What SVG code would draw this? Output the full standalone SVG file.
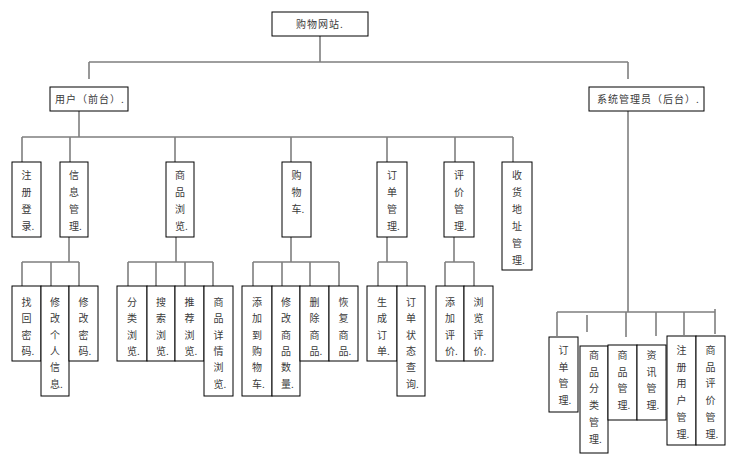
<svg xmlns="http://www.w3.org/2000/svg" width="729" height="469" viewBox="0 0 729 469">
<style>
rect{fill:#fff;stroke:#000;stroke-width:1}
text{font-family:"Noto Sans CJK SC","Liberation Sans",sans-serif;font-size:10px;fill:#3a3a3a}
.h{letter-spacing:1px}
#connectors path{fill:none;stroke:#7f7f7f;stroke-width:1.6}
</style>
<rect x="0" y="0" width="729" height="469" style="stroke:none"/>
<g id="connectors">
<path d="M320,36V62M89,62H628M89,62V79M628,62V79"/>
<path d="M79,111V137M22,137H513M22,137V162M70,137V162M175,137V162M291,137V162M387,137V162M455,137V162M513,137V162"/>
<path d="M69,237V262M22,262H79M22,262V286M51,262V286M79,262V286"/>
<path d="M176,237V262M128,262H213M128,262V286M156,262V286M185,262V286M213,262V286"/>
<path d="M291,237V262M253,262H339M253,262V286M282,262V286M310,262V286M339,262V286"/>
<path d="M387,237V262M378,262H407M378,262V286M407,262V286"/>
<path d="M454,237V262M445,262H474M445,262V286M474,262V286"/>
<path d="M628,111V312M557,312H715M557,312V336M587,315V332M626,312V337M656,312V336M684,312V335M715,309V334"/>
</g>
<g id="root"><rect x="272" y="12" width="96" height="24"/><text class="h" x="296" y="28">购物网站.</text></g>
<g id="user"><rect x="50" y="87" width="78" height="24"/><text class="h" x="55" y="103">用户（前台）.</text></g>
<g id="admin"><rect x="589" y="87" width="115" height="24"/><text class="h" x="597" y="103">系统管理员（后台）.</text></g>

<g id="reg"><rect x="12" y="162" width="29" height="75"/><text><tspan x="21.5" y="179">注</tspan><tspan x="21.5" dy="17">册</tspan><tspan x="21.5" dy="17">登</tspan><tspan x="21.5" dy="17">录.</tspan></text></g>
<g id="info"><rect x="60" y="162" width="28" height="75"/><text><tspan x="69" y="179">信</tspan><tspan x="69" dy="17">息</tspan><tspan x="69" dy="17">管</tspan><tspan x="69" dy="17">理.</tspan></text></g>
<g id="browse"><rect x="166" y="162" width="28" height="75"/><text><tspan x="175" y="179">商</tspan><tspan x="175" dy="17">品</tspan><tspan x="175" dy="17">浏</tspan><tspan x="175" dy="17">览.</tspan></text></g>
<g id="cart"><rect x="282" y="162" width="29" height="75"/><text><tspan x="291.5" y="179">购</tspan><tspan x="291.5" dy="17">物</tspan><tspan x="291.5" dy="17">车.</tspan></text></g>
<g id="order"><rect x="377" y="162" width="30" height="75"/><text><tspan x="387" y="179">订</tspan><tspan x="387" dy="17">单</tspan><tspan x="387" dy="17">管</tspan><tspan x="387" dy="17">理.</tspan></text></g>
<g id="review"><rect x="444" y="162" width="30" height="75"/><text><tspan x="454" y="179">评</tspan><tspan x="454" dy="17">价</tspan><tspan x="454" dy="17">管</tspan><tspan x="454" dy="17">理.</tspan></text></g>
<g id="address"><rect x="502" y="162" width="30" height="108"/><text><tspan x="512" y="179">收</tspan><tspan x="512" dy="17">货</tspan><tspan x="512" dy="17">地</tspan><tspan x="512" dy="17">址</tspan><tspan x="512" dy="17">管</tspan><tspan x="512" dy="17">理.</tspan></text></g>

<g id="findpwd"><rect x="12" y="286" width="29" height="75"/><text><tspan x="21.5" y="306">找</tspan><tspan x="21.5" dy="16.3">回</tspan><tspan x="21.5" dy="16.3">密</tspan><tspan x="21.5" dy="16.3">码.</tspan></text></g>
<g id="editinfo"><rect x="41" y="286" width="28" height="110"/><text><tspan x="50" y="306">修</tspan><tspan x="50" dy="16.3">改</tspan><tspan x="50" dy="16.3">个</tspan><tspan x="50" dy="16.3">人</tspan><tspan x="50" dy="16.3">信</tspan><tspan x="50" dy="16.3">息.</tspan></text></g>
<g id="editpwd"><rect x="69" y="286" width="29" height="75"/><text><tspan x="78.5" y="306">修</tspan><tspan x="78.5" dy="16.3">改</tspan><tspan x="78.5" dy="16.3">密</tspan><tspan x="78.5" dy="16.3">码.</tspan></text></g>

<g id="catbrowse"><rect x="117" y="286" width="30" height="75"/><text><tspan x="127" y="306">分</tspan><tspan x="127" dy="16.3">类</tspan><tspan x="127" dy="16.3">浏</tspan><tspan x="127" dy="16.3">览.</tspan></text></g>
<g id="search"><rect x="147" y="286" width="28" height="75"/><text><tspan x="156" y="306">搜</tspan><tspan x="156" dy="16.3">索</tspan><tspan x="156" dy="16.3">浏</tspan><tspan x="156" dy="16.3">览.</tspan></text></g>
<g id="recommend"><rect x="175" y="286" width="29" height="75"/><text><tspan x="184.5" y="306">推</tspan><tspan x="184.5" dy="16.3">荐</tspan><tspan x="184.5" dy="16.3">浏</tspan><tspan x="184.5" dy="16.3">览.</tspan></text></g>
<g id="detail"><rect x="204" y="286" width="29" height="110"/><text><tspan x="213.5" y="306">商</tspan><tspan x="213.5" dy="16.3">品</tspan><tspan x="213.5" dy="16.3">详</tspan><tspan x="213.5" dy="16.3">情</tspan><tspan x="213.5" dy="16.3">浏</tspan><tspan x="213.5" dy="16.3">览.</tspan></text></g>

<g id="addcart"><rect x="242" y="286" width="30" height="110"/><text><tspan x="252" y="306">添</tspan><tspan x="252" dy="16.3">加</tspan><tspan x="252" dy="16.3">到</tspan><tspan x="252" dy="16.3">购</tspan><tspan x="252" dy="16.3">物</tspan><tspan x="252" dy="16.3">车.</tspan></text></g>
<g id="editqty"><rect x="272" y="286" width="28" height="110"/><text><tspan x="281" y="306">修</tspan><tspan x="281" dy="16.3">改</tspan><tspan x="281" dy="16.3">商</tspan><tspan x="281" dy="16.3">品</tspan><tspan x="281" dy="16.3">数</tspan><tspan x="281" dy="16.3">量.</tspan></text></g>
<g id="delitem"><rect x="300" y="286" width="29" height="75"/><text><tspan x="309.5" y="306">删</tspan><tspan x="309.5" dy="16.3">除</tspan><tspan x="309.5" dy="16.3">商</tspan><tspan x="309.5" dy="16.3">品.</tspan></text></g>
<g id="restore"><rect x="329" y="286" width="29" height="75"/><text><tspan x="338.5" y="306">恢</tspan><tspan x="338.5" dy="16.3">复</tspan><tspan x="338.5" dy="16.3">商</tspan><tspan x="338.5" dy="16.3">品.</tspan></text></g>

<g id="genorder"><rect x="367" y="286" width="30" height="75"/><text><tspan x="377" y="306">生</tspan><tspan x="377" dy="16.3">成</tspan><tspan x="377" dy="16.3">订</tspan><tspan x="377" dy="16.3">单.</tspan></text></g>
<g id="orderstatus"><rect x="397" y="286" width="28" height="110"/><text><tspan x="406" y="306">订</tspan><tspan x="406" dy="16.3">单</tspan><tspan x="406" dy="16.3">状</tspan><tspan x="406" dy="16.3">态</tspan><tspan x="406" dy="16.3">查</tspan><tspan x="406" dy="16.3">询.</tspan></text></g>

<g id="addreview"><rect x="436" y="286" width="28" height="75"/><text><tspan x="445" y="306">添</tspan><tspan x="445" dy="16.3">加</tspan><tspan x="445" dy="16.3">评</tspan><tspan x="445" dy="16.3">价.</tspan></text></g>
<g id="viewreview"><rect x="464" y="286" width="29" height="75"/><text><tspan x="473.5" y="306">浏</tspan><tspan x="473.5" dy="16.3">览</tspan><tspan x="473.5" dy="16.3">评</tspan><tspan x="473.5" dy="16.3">价.</tspan></text></g>

<g id="a-order"><rect x="549" y="337" width="29" height="75"/><text><tspan x="558.5" y="354">订</tspan><tspan x="558.5" dy="16.7">单</tspan><tspan x="558.5" dy="16.7">管</tspan><tspan x="558.5" dy="16.7">理.</tspan></text></g>
<g id="a-category"><rect x="580" y="346" width="28" height="107"/><text><tspan x="589" y="359">商</tspan><tspan x="589" dy="16.7">品</tspan><tspan x="589" dy="16.7">分</tspan><tspan x="589" dy="16.7">类</tspan><tspan x="589" dy="16.7">管</tspan><tspan x="589" dy="16.7">理.</tspan></text></g>
<g id="a-goods"><rect x="608" y="345" width="29" height="75"/><text><tspan x="617.5" y="359">商</tspan><tspan x="617.5" dy="16.7">品</tspan><tspan x="617.5" dy="16.7">管</tspan><tspan x="617.5" dy="16.7">理.</tspan></text></g>
<g id="a-news"><rect x="637" y="345" width="29" height="75"/><text><tspan x="646.5" y="359">资</tspan><tspan x="646.5" dy="16.7">讯</tspan><tspan x="646.5" dy="16.7">管</tspan><tspan x="646.5" dy="16.7">理.</tspan></text></g>
<g id="a-users"><rect x="667" y="336" width="29" height="109"/><text><tspan x="676.5" y="354">注</tspan><tspan x="676.5" dy="16.7">册</tspan><tspan x="676.5" dy="16.7">用</tspan><tspan x="676.5" dy="16.7">户</tspan><tspan x="676.5" dy="16.7">管</tspan><tspan x="676.5" dy="16.7">理.</tspan></text></g>
<g id="a-reviews"><rect x="696" y="336" width="29" height="109"/><text><tspan x="705.5" y="354">商</tspan><tspan x="705.5" dy="16.7">品</tspan><tspan x="705.5" dy="16.7">评</tspan><tspan x="705.5" dy="16.7">价</tspan><tspan x="705.5" dy="16.7">管</tspan><tspan x="705.5" dy="16.7">理.</tspan></text></g>
</svg>
